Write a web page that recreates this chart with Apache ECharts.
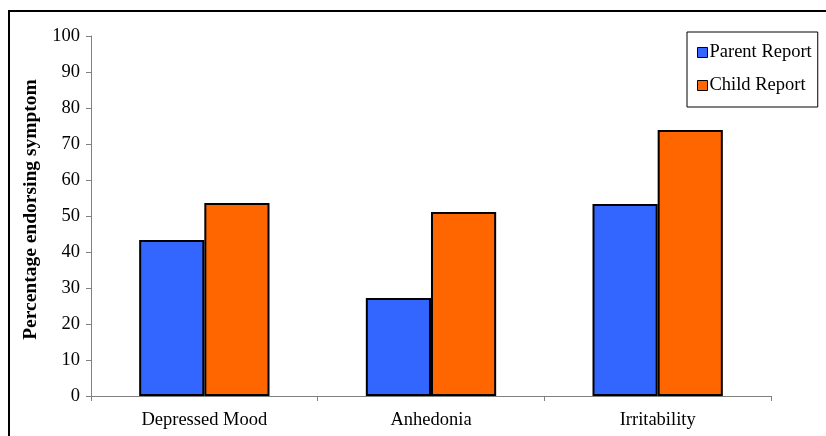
<!DOCTYPE html>
<html><head><meta charset="utf-8">
<script src="https://cdn.jsdelivr.net/npm/echarts@6/dist/echarts.min.js"></script>
<style>html,body{margin:0;padding:0;background:#fff}#c{width:826px;height:436px}</style>
</head><body><div id="c"></div>
<script>
const categories = ['Depressed Mood', 'Anhedonia', 'Irritability'];
const parentReport = [43.3, 27.2, 53.3];
const childReport = [53.6, 51.1, 73.9];
const yTicks = { min: 0, max: 100, interval: 10 };
const font = '"Liberation Serif", "Times New Roman", serif';

const chart = echarts.init(document.getElementById('c'));
chart.setOption({
  animation: false,
  backgroundColor: '#fff',
  textStyle: { fontFamily: font },
  graphic: [{
    type: 'polyline',
    shape: { points: [[9, 436], [9, 11], [826, 11]] },
    style: { stroke: '#000', lineWidth: 2, fill: null }
  }],
  grid: { left: 91, right: 55, top: 36, bottom: 40 },
  legend: {
    orient: 'vertical', left: 687, top: 32,
    padding: [11, 6, 12, 10], itemGap: 14,
    borderColor: '#000', borderWidth: 1, borderRadius: 0,
    itemWidth: 10, itemHeight: 10, icon: 'rect',
    itemStyle: { borderColor: '#000', borderWidth: 1 },
    textStyle: { fontFamily: font, fontSize: 18.5, color: '#000', padding: [0, 0, 0, -3] },
    data: ['Parent Report', 'Child Report']
  },
  xAxis: {
    type: 'category', data: categories,
    axisLine: { lineStyle: { color: '#808080', width: 1 } },
    axisTick: { show: true, length: 5, lineStyle: { color: '#808080' } },
    axisLabel: { color: '#000', fontSize: 18.5, fontFamily: font, margin: 15 }
  },
  yAxis: {
    type: 'value', min: yTicks.min, max: yTicks.max, interval: yTicks.interval,
    name: 'Percentage endorsing symptom', nameLocation: 'middle', nameGap: 46,
    nameTextStyle: { fontFamily: font, fontSize: 19.5, fontWeight: 'bold', color: '#000', padding: [0, 0, 0, 13] },
    axisLine: { show: true, lineStyle: { color: '#808080', width: 1 } },
    axisTick: { show: true, length: 5, lineStyle: { color: '#808080' } },
    splitLine: { show: false },
    axisLabel: { color: '#000', fontSize: 18.5, fontFamily: font, margin: 11 }
  },
  series: [
    { name: 'Parent Report', type: 'bar', data: parentReport, barGap: '0%', barCategoryGap: '42.5%',
      itemStyle: { color: '#3366FF', borderColor: '#000', borderWidth: 2 } },
    { name: 'Child Report', type: 'bar', data: childReport, barGap: '0%', barCategoryGap: '42.5%',
      itemStyle: { color: '#FF6600', borderColor: '#000', borderWidth: 2 } }
  ]
});
</script></body></html>
